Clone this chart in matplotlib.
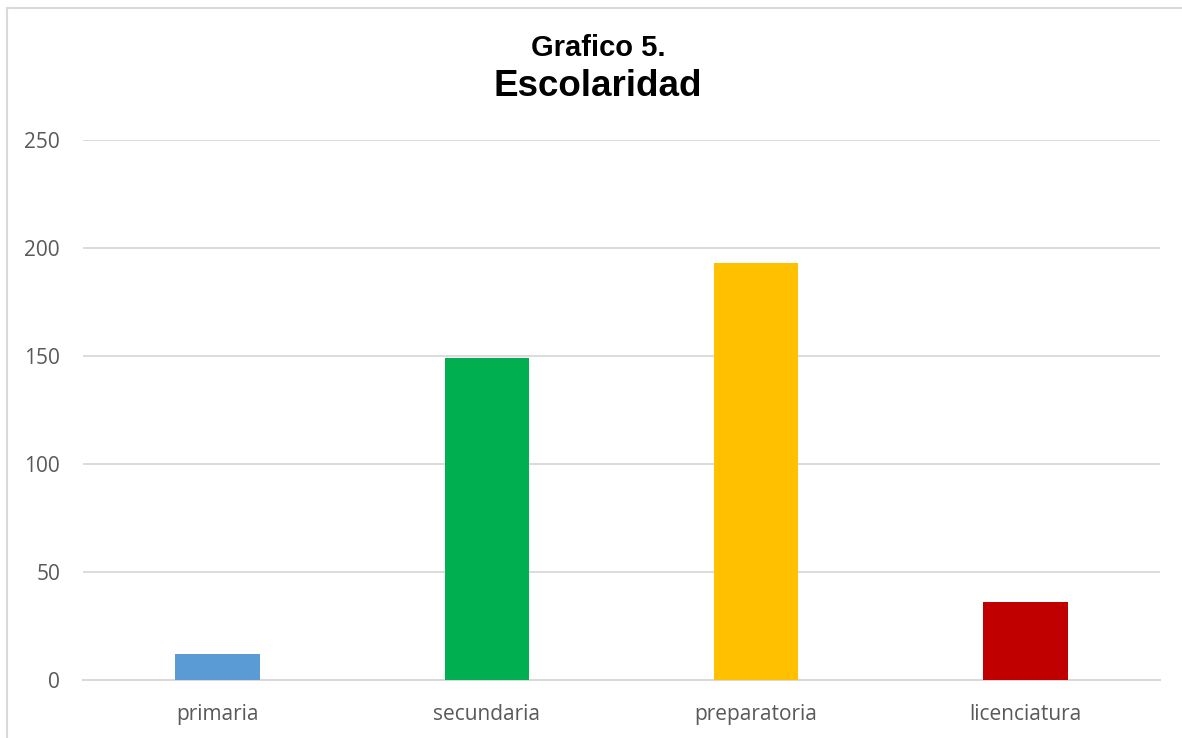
import matplotlib
matplotlib.use("Agg")
import matplotlib.pyplot as plt
from matplotlib.lines import Line2D

categories = ["primaria", "secundaria", "preparatoria", "licenciatura"]
values = [12, 149, 193, 36]
colors = ["#5B9BD5", "#00B050", "#FFC000", "#C00000"]
yticks = [0, 50, 100, 150, 200, 250]
title_line1 = "Grafico 5."
title_line2 = "Escolaridad"

W, H = 1182, 738
fig = plt.figure(figsize=(W / 100, H / 100), dpi=100)
ax = fig.add_axes([83 / W, 1 - 680 / H, (1160 - 83) / W, (680 - 140) / H])

x = range(len(categories))
ax.bar(x, values, width=0.313, color=colors, zorder=3)
ax.set_xlim(-0.5, len(categories) - 0.5)
ax.set_ylim(0, 250)
ax.set_yticks(yticks)
ax.set_xticks(list(x))
ax.set_xticklabels(categories)

for s in ["top", "right", "left"]:
    ax.spines[s].set_visible(False)
ax.spines["bottom"].set_color("#d9d9d9")
ax.spines["bottom"].set_linewidth(1.5)
ax.grid(axis="y", color="#d9d9d9", linewidth=1.3, zorder=0)
ax.tick_params(axis="both", length=0, labelsize=15, labelcolor="#595959")
ax.tick_params(axis="y", pad=16.5)
ax.tick_params(axis="x", pad=17)
for lbl in ax.get_xticklabels() + ax.get_yticklabels():
    lbl.set_fontfamily("Open Sans")

fig.text(598 / W, 1 - 56 / H, title_line1, ha="center", va="baseline",
         fontsize=21, fontweight="bold", family="Liberation Sans")
fig.text(598 / W, 1 - 96 / H, title_line2, ha="center", va="baseline",
         fontsize=26.5, fontweight="bold", family="Liberation Sans")

# chart border (top and left visible)
fig.add_artist(Line2D([7 / W, 1], [1 - 8 / H, 1 - 8 / H], transform=fig.transFigure,
                      color="#d9d9d9", linewidth=1.5))
fig.add_artist(Line2D([7 / W, 7 / W], [0, 1 - 8 / H], transform=fig.transFigure,
                      color="#d9d9d9", linewidth=1.5))

fig.savefig("out.png", dpi=100)
